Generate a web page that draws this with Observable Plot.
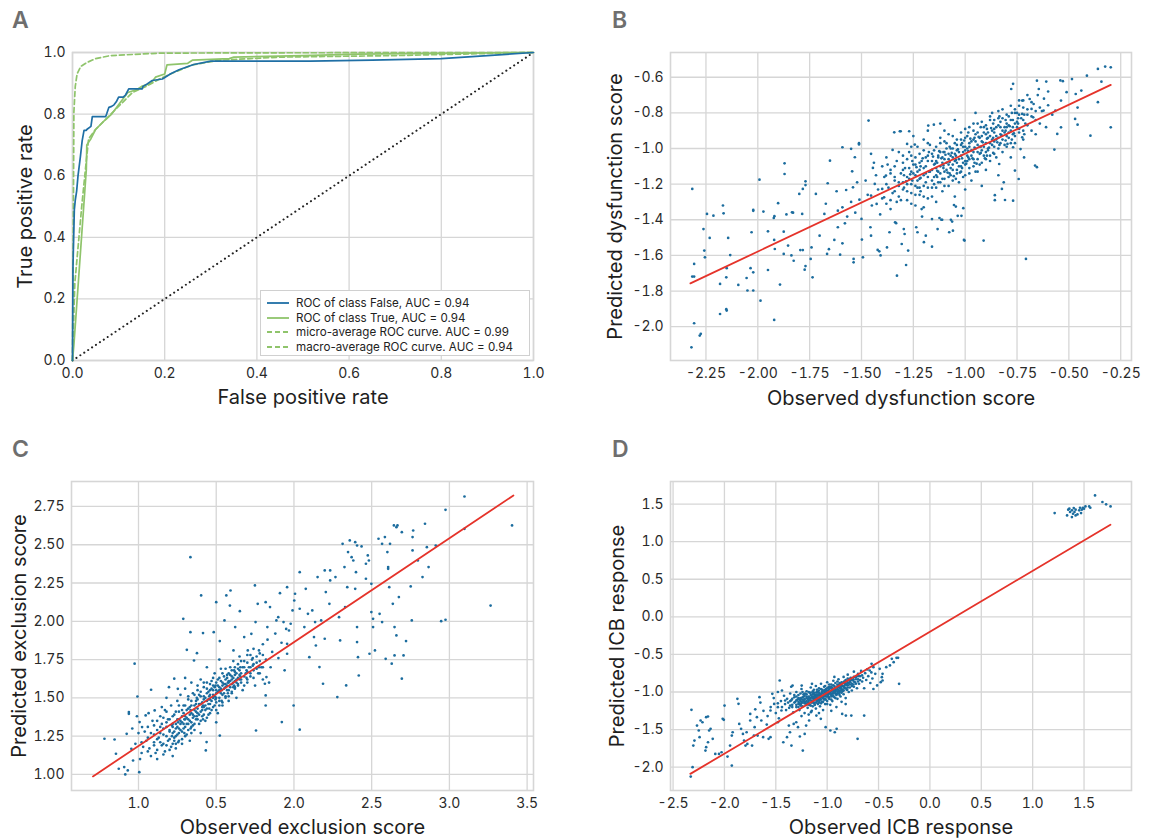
<!DOCTYPE html>
<html><head><meta charset="utf-8">
<script src="https://cdn.jsdelivr.net/npm/d3@7"></script>
<script src="https://cdn.jsdelivr.net/npm/@observablehq/plot@0.6"></script>
<style>
body{margin:0;background:#fff;font-family:Inter,"Open Sans",sans-serif;}
#root{position:relative;width:1157px;height:839px;overflow:hidden;background:#fff;}
.panel{position:absolute;}
.letter{position:absolute;font-size:23px;font-weight:600;color:#6e6e6e;line-height:23px;}
.legend{position:absolute;left:260px;top:290px;width:270px;height:66px;background:#fff;border:1px solid #d0d0d0;box-sizing:border-box;padding:5px 0 0 6px;font-size:11.6px;color:#222;}
.legend div{height:14.6px;display:flex;align-items:center;white-space:nowrap;}
.legend svg{margin-right:7px;}
</style></head><body><div id="root"></div>
<script>
// ---------- Panel A: ROC curves ----------
const rocFalseFpr = [0,0.001,0.004,0.006,0.009,0.012,0.017,0.021,0.025,0.03,0.031,0.04,0.043,0.072,0.074,0.079,0.085,0.09,0.095,0.1,0.11,0.115,0.122,0.151,0.153,0.162,0.173,0.195,0.213,0.231,0.263,0.3,0.516,0.65,0.8,0.9,1];
const rocFalseTpr = [0,0.3,0.49,0.52,0.55,0.6,0.66,0.714,0.747,0.747,0.75,0.76,0.792,0.792,0.8,0.822,0.825,0.83,0.84,0.855,0.855,0.862,0.882,0.882,0.89,0.898,0.909,0.914,0.931,0.944,0.961,0.972,0.972,0.975,0.98,0.99,1];
const rocTrueFpr = [0,0.003,0.03,0.031,0.04,0.05,0.07,0.085,0.1,0.12,0.14,0.15,0.17,0.18,0.2,0.205,0.25,0.26,0.34,0.35,0.5,0.62,1];
const rocTrueTpr = [0,0.05,0.62,0.70,0.72,0.75,0.78,0.80,0.83,0.87,0.88,0.89,0.90,0.92,0.93,0.96,0.965,0.975,0.98,0.985,0.99,0.995,1];
const microFpr = [0,0.002,0.003,0.006,0.01,0.018,0.032,0.05,0.082,0.15,0.19,0.4,1];
const microTpr = [0,0.5,0.806,0.89,0.931,0.955,0.968,0.98,0.99,0.995,0.998,0.999,1];
const macroFpr = [0,0.005,0.02,0.03,0.035,0.05,0.07,0.09,0.11,0.13,0.16,0.19,0.22,0.26,0.32,0.45,0.7,1];
const macroTpr = [0,0.25,0.5,0.65,0.72,0.75,0.78,0.81,0.84,0.87,0.89,0.915,0.935,0.96,0.975,0.985,0.99,1];
const chanceLine = [0,1];
const rocTicks = [0,0.2,0.4,0.6,0.8,1.0];
const rocTickLabels = ["0.0","0.2","0.4","0.6","0.8","1.0"];
const legendLabels = ["ROC of class False, AUC = 0.94","ROC of class True, AUC = 0.94","micro-average ROC curve. AUC = 0.99","macro-average ROC curve. AUC = 0.94"];

// ---------- Panel B: dysfunction ----------
const bXTicks = [-2.25,-2.0,-1.75,-1.5,-1.25,-1.0,-0.75,-0.5,-0.25];
const bXTickLabels = ["-2.25","-2.00","-1.75","-1.50","-1.25","-1.00","-0.75","-0.50","-0.25"];
const bYTicks = [-2.0,-1.8,-1.6,-1.4,-1.2,-1.0,-0.8,-0.6];
const bYTickLabels = ["-2.0","-1.8","-1.6","-1.4","-1.2","-1.0","-0.8","-0.6"];
const bFitObserved = [-2.325,-0.298];
const bFitPredicted = [-1.757,-0.643];
const bPoints = [[-2.316,-1.227],[-2.262,-1.452],[-2.258,-1.573],[-2.255,-1.611],[-2.307,-1.648],[-2.316,-1.719],[-2.307,-1.719],[-2.307,-1.981],[-2.32,-2.116],[-2.28,-2.05],[-2.275,-2.04],[-2.245,-1.367],[-2.214,-1.377],[-2.232,-1.502],[-2.168,-1.32],[-2.165,-1.364],[-2.143,-1.502],[-2.15,-1.672],[-2.152,-1.723],[-2.133,-1.598],[-2.182,-1.76],[-2.182,-1.929],[-2.15,-1.91],[-2.152,-1.902],[-2.094,-1.766],[-2.05,-1.797],[-2.022,-1.797],[-2.022,-1.35],[-2.022,-1.345],[-2.03,-1.47],[-1.987,-1.854],[-1.992,-1.175],[-2.035,-1.672],[-2.022,-1.695],[-2.054,-1.727],[-1.973,-1.354],[-1.951,-1.465],[-1.951,-1.682],[-1.923,-1.39],[-1.92,-1.38],[-1.921,-1.513],[-1.918,-1.564],[-1.902,-1.307],[-1.871,-1.083],[-1.871,-1.143],[-1.875,-1.467],[-1.875,-1.592],[-1.921,-1.962],[-1.893,-1.764],[-1.835,-1.358],[-1.83,-1.36],[-1.854,-1.545],[-1.862,-1.37],[-1.838,-1.6],[-1.827,-1.63],[-1.8,-1.255],[-1.783,-1.227],[-1.77,-1.184],[-1.77,-1.205],[-1.786,-1.367],[-1.795,-1.57],[-1.783,-1.57],[-1.774,-1.68],[-1.77,-1.66],[-1.745,-1.62],[-1.741,-1.555],[-1.736,-1.723],[-1.72,-1.255],[-1.702,-1.489],[-1.679,-1.367],[-1.672,-1.31],[-1.663,-1.195],[-1.652,-1.068],[-1.666,-1.592],[-1.657,-1.565],[-1.631,-1.513],[-1.614,-1.349],[-1.614,-1.442],[-1.603,-1.596],[-1.592,-0.993],[-1.592,-1.33],[-1.592,-1.532],[-1.574,-1.233],[-1.569,-1.382],[-1.55,-1.002],[-1.545,-1.128],[-1.541,-1.218],[-1.532,-1.049],[-1.538,-1.62],[-1.538,-1.639],[-1.512,-0.97],[-1.512,-0.977],[-1.521,-1.19],[-1.51,-1.287],[-1.5,-1.395],[-1.498,-1.511],[-1.493,-1.611],[-1.466,-0.843],[-1.454,-1.03],[-1.445,-1.109],[-1.454,-1.264],[-1.457,-1.442],[-1.454,-1.489],[-1.436,-1.199],[-1.427,-1.311],[-1.422,-1.569],[-1.414,-1.577],[-1.408,-1.6],[-1.4,-1.227],[-1.391,-1.274],[-1.382,-1.152],[-1.377,-1.555],[-1.374,-1.09],[-1.365,-1.47],[-1.35,-1.008],[-1.342,-0.909],[-1.338,-1.414],[-1.333,-1.419],[-1.329,-1.714],[-1.315,-0.903],[-1.311,-0.903],[-1.306,-1.536],[-1.296,-1.452],[-1.292,-1.48],[-1.285,-1.654],[-1.28,-0.974],[-1.27,-0.903],[-1.275,-1.573],[-1.243,-0.978],[-1.236,-1.442],[-1.23,-1.47],[-1.208,-1.382],[-1.199,-1.526],[-1.19,-1.489],[-1.16,-1.551],[-1.151,-0.866],[-1.16,-1.396],[-1.178,-0.871],[-1.133,-1.452],[-1.124,-1.39],[-1.115,-1.4],[-1.111,-1.4],[-1.069,-1.4],[-1.077,-1.47],[-1.063,-1.41],[-1.059,-1.461],[-1.054,-1.317],[-1.045,-1.326],[-1.036,-1.378],[-1.018,-1.378],[-1.009,-1.335],[-1.006,-1.513],[-1.003,-1.517],[-0.911,-1.517],[-0.857,-1.29],[-0.857,-1.262],[-0.808,-1.289],[-0.769,-1.293],[-0.707,-1.62],
[-0.413,-0.591],[-0.36,-0.553],[-0.325,-0.54],[-0.298,-0.544],[-0.343,-0.625],[-0.36,-0.74],[-0.298,-0.881],[-0.396,-0.928],[-0.485,-0.61],[-0.44,-0.675],[-0.467,-0.694],[-0.458,-0.77],[-0.47,-0.834],[-0.458,-0.866],[-0.529,-0.622],[-0.541,-0.618],[-0.511,-0.684],[-0.538,-0.731],[-0.565,-0.787],[-0.556,-0.918],[-0.57,-1.006],[-0.538,-0.881],[-0.6,-0.757],[-0.609,-0.624],[-0.654,-0.619],[-0.645,-0.666],[-0.622,-0.787],[-0.769,-0.637],[-0.778,-0.666],[-0.689,-0.722],[-0.725,-0.731],[-0.725,-0.806],[-0.68,-0.778],[-0.672,-0.825],[-0.654,-1.105],[-0.663,-1.096],[-0.716,-1.05],[-0.733,-1.003],[-0.742,-1.171],[-0.76,-1.124],[-0.814,-1.19],[-0.823,-1.227],[-0.836,-1.087],[-0.796,-0.974],[-0.769,-0.993],[-0.725,-0.937],
[-1.39,-1.16],[-1.37,-1.22],[-1.36,-1.12],[-1.35,-1.25],[-1.34,-1.18],[-1.33,-1.07],[-1.32,-1.21],[-1.31,-1.29],[-1.31,-1.14],[-1.30,-1.19],[-1.30,-1.04],[-1.38,-1.31],[-1.36,-1.34],[-1.33,-1.30],
[-1.29,-1.11],[-1.28,-1.24],[-1.28,-1.16],[-1.27,-1.02],[-1.26,-1.20],[-1.26,-1.31],[-1.25,-1.09],[-1.25,-1.14],[-1.24,-1.26],[-1.24,-1.05],[-1.23,-1.18],[-1.23,-0.99],[-1.22,-1.12],[-1.22,-1.22],[-1.21,-1.34],[-1.21,-1.07],[-1.20,-1.15],[-1.20,-1.27],[-1.20,-0.95],
[-1.19,-1.10],[-1.19,-1.19],[-1.18,-1.04],[-1.18,-1.28],[-1.17,-1.13],[-1.17,-0.98],[-1.16,-1.07],[-1.16,-1.22],[-1.15,-1.16],[-1.15,-1.01],[-1.14,-1.11],[-1.14,-1.30],[-1.13,-1.05],[-1.13,-1.19],[-1.12,-0.94],[-1.12,-1.14],[-1.11,-1.08],[-1.11,-1.24],[-1.10,-1.02],[-1.10,-1.17],[-1.10,-0.90],
[-1.09,-1.12],[-1.09,-0.97],[-1.08,-1.06],[-1.08,-1.21],[-1.07,-1.00],[-1.07,-1.15],[-1.06,-1.09],[-1.06,-0.93],[-1.05,-1.03],[-1.05,-1.27],[-1.04,-1.12],[-1.04,-0.98],[-1.03,-1.06],[-1.03,-1.19],[-1.02,-0.95],[-1.02,-1.10],[-1.01,-1.02],[-1.01,-1.16],[-1.00,-0.89],[-1.00,-1.07],[-1.00,-0.99],[-1.00,-1.23],
[-0.99,-1.04],[-0.99,-0.93],[-0.98,-1.11],[-0.98,-0.97],[-0.97,-1.01],[-0.97,-1.18],[-0.96,-0.90],[-0.96,-1.06],[-0.95,-0.96],[-0.95,-1.13],[-0.94,-1.02],[-0.94,-0.86],[-0.93,-0.99],[-0.93,-1.09],[-0.92,-0.93],[-0.92,-1.21],[-0.91,-1.04],[-0.91,-0.88],[-0.90,-0.97],[-0.90,-1.12],
[-0.89,-0.91],[-0.89,-1.01],[-0.88,-0.84],[-0.88,-1.07],[-0.87,-0.95],[-0.87,-0.80],[-0.86,-0.99],[-0.86,-0.89],[-0.85,-1.05],[-0.85,-0.93],[-0.84,-0.83],[-0.84,-1.15],[-0.83,-0.97],[-0.83,-0.88],[-0.82,-0.78],[-0.82,-1.02],[-0.81,-0.91],[-0.80,-0.86],[-0.80,-0.99],
[-0.79,-0.82],[-0.79,-0.94],[-0.78,-0.76],[-0.78,-1.05],[-0.77,-0.88],[-0.76,-0.80],[-0.76,-0.97],[-0.75,-0.85],[-0.74,-0.73],[-0.74,-0.91],[-0.73,-0.83],[-0.72,-0.77],[-0.72,-0.95],[-0.71,-0.86],[-0.70,-0.70],[-0.70,-0.81],
[-1.48,-1.18],[-1.45,-1.32],[-1.44,-1.08],[-1.42,-1.23],[-1.41,-1.37],[-1.47,-1.26],[-1.43,-1.15],[-0.68,-0.90],[-0.67,-0.75],[-0.66,-0.84],[-0.65,-0.70],[-0.63,-0.79],[-0.62,-0.72],[-0.61,-0.88],[-0.60,-0.68],[-0.58,-0.81],[-1.55,-1.30],[-1.58,-1.42],[-1.53,-1.36],[-1.62,-1.24],[-1.12,-0.86],[-1.05,-0.84],[-0.95,-0.80],[-1.25,-0.93],[-1.18,-0.90],
[-1.155,-1.045],[-1.145,-1.085],[-1.135,-1.125],[-1.125,-1.015],[-1.115,-1.055],[-1.105,-1.095],[-1.095,-1.035],[-1.085,-1.135],[-1.075,-1.075],[-1.065,-1.025],[-1.055,-1.155],[-1.045,-1.065],[-1.035,-1.005],[-1.025,-1.135],[-1.015,-1.055],[-1.005,-0.955],[-0.995,-1.085],[-0.985,-1.015],[-0.975,-0.945],[-0.965,-1.055],[-0.955,-0.995],[-0.945,-1.085],[-0.935,-0.935],[-0.925,-1.025],[-0.915,-0.965],[-0.905,-1.055],[-0.895,-0.945],[-0.885,-0.995],[-0.875,-0.885],[-0.865,-1.025],[-1.205,-1.055],[-1.215,-1.165],[-1.235,-1.105],[-1.265,-1.145],[-1.285,-1.185],[-0.845,-0.965],[-0.825,-0.925],[-0.805,-0.955],[-0.785,-0.875],[-0.765,-0.915]];
// dense core of B: observed value, then the predicted values read at that observed value
const bCoreRows = [[-1.40,[-1.10,-1.28]],[-1.38,[-1.20,-1.05]],[-1.36,[-1.14,-1.29]],[-1.34,[-1.24,-1.10,-1.16]],[-1.32,[-1.02,-1.19,-1.27]],[-1.30,[-1.12,-1.23,-1.08]],[-1.28,[-1.20,-1.06,-1.29]],[-1.27,[-1.17,-1.11]],[-1.26,[-1.13,-1.04,-1.25,-0.99]],[-1.24,[-1.15,-1.21,-1.09,-1.32]],[-1.23,[-1.13,-1.22]],[-1.22,[-1.03,-1.17,-1.26,-1.08]],[-1.20,[-1.11,-1.21,-1.01,-1.33]],[-1.19,[-1.05,-1.14]],[-1.18,[-1.16,-1.07,-1.22,-0.97]],[-1.16,[-1.12,-1.03,-1.18,-1.27]],[-1.15,[-1.09,-1.20]],[-1.14,[-1.07,-1.15,-0.99,-1.22]],[-1.13,[-1.13,-1.04]],[-1.12,[-1.10,-1.02,-1.19,-0.97]],[-1.11,[-1.17,-1.05]],[-1.10,[-1.13,-1.06,-0.96,-1.21]],[-1.09,[-1.08,-1.00]],[-1.08,[-1.03,-1.16,-0.92,-1.09]],[-1.07,[-1.11,-1.04]],[-1.06,[-1.00,-1.12,-1.05,-1.18]],[-1.05,[-1.07,-0.97]],[-1.04,[-1.08,-0.95,-1.14,-1.01]],[-1.03,[-1.02,-1.10]],[-1.02,[-1.04,-0.91,-1.13,-0.98]],[-1.01,[-1.08,-0.99]],[-1.00,[-1.01,-1.09,-0.94,-1.15]],[-0.99,[-1.00,-1.07]],[-0.98,[-1.06,-0.99,-0.88,-1.14]],[-0.97,[-0.96,-1.04]],[-0.96,[-1.02,-0.95,-1.10,-0.86]],[-0.95,[-1.00,-0.92]],[-0.94,[-0.98,-1.06,-0.91,-1.13]],[-0.93,[-1.03,-0.94]],[-0.92,[-1.01,-0.96,-0.85,-1.08]],[-0.91,[-0.99,-0.91]],[-0.90,[-0.92,-1.02,-0.87,-1.06]],[-0.89,[-0.94,-1.00]],[-0.88,[-0.97,-0.93,-1.04,-0.82]],[-0.87,[-0.90,-0.98]],[-0.86,[-0.91,-0.96,-0.84,-1.03]],[-0.85,[-0.95,-0.88]],[-0.84,[-0.94,-0.87,-1.00,-0.79]],[-0.83,[-0.92,-0.85]],[-0.82,[-0.90,-0.95,-0.83]],[-0.81,[-0.88,-0.98]],[-0.80,[-0.93,-0.81,-0.88]],[-0.79,[-0.87,-0.91]],[-0.78,[-0.90,-0.84,-0.97]],[-0.77,[-0.84,-0.92]],[-0.76,[-0.86,-0.78,-0.93]],[-0.75,[-0.88,-0.80]],[-0.74,[-0.89,-0.81,-0.76]],[-0.72,[-0.84,-0.90,-0.73]],[-0.70,[-0.87,-0.78]],[-0.68,[-0.82,-0.74]],[-0.66,[-0.79,-0.92]],[-0.64,[-0.77,-0.86]],
[-1.295,[-1.15,-1.22]],[-1.255,[-1.18,-1.07]],[-1.215,[-1.10,-1.24]],[-1.175,[-1.13,-1.02]],[-1.135,[-1.16,-1.08]],[-1.105,[-1.02,-1.11]],[-1.075,[-1.14,-0.99]],[-1.045,[-1.04,-1.17]],[-1.015,[-0.97,-1.11]],[-0.985,[-1.05,-0.91]],[-0.955,[-1.08,-0.94]],[-0.925,[-0.99,-0.88]],[-0.895,[-1.04,-0.89]],[-0.865,[-0.94,-0.86]],[-0.835,[-0.98,-0.82]],[-0.805,[-0.90,-0.84]],[-0.775,[-0.95,-0.80]],[-0.745,[-0.86,-0.83]],[-0.715,[-0.81,-0.92]]];

// ---------- Panel C: exclusion ----------
const cXTicks = [1.0,1.5,2.0,2.5,3.0,3.5];
const cXTickLabels = ["1.0","0.5","2.0","2.5","3.0","3.5"];
const cYTicks = [1.0,1.25,1.5,1.75,2.0,2.25,2.5,2.75];
const cYTickLabels = ["1.00","1.25","1.50","1.75","2.00","2.25","2.50","2.75"];
const cFitObserved = [0.707,3.412];
const cFitPredicted = [0.987,2.822];
const cPoints = [[0.781,1.233],[0.846,1.228],[0.855,1.135],[0.873,1.037],[0.915,1.0],[0.908,1.048],[0.931,1.026],[0.938,1.407],[0.938,1.396],[0.975,1.723],[0.993,1.509],[1.005,1.015],[0.924,1.265],[0.954,1.167],[0.965,1.091],[1.023,1.309],[1.007,1.342],[1.081,1.553],[1.065,1.4],[1.046,1.385],[1.104,1.418],[1.15,1.44],[1.196,1.57],[1.23,1.625],[1.253,1.559],[1.288,2.016],[1.334,2.419],[1.334,1.929],[1.311,1.814],[1.357,1.744],[1.376,1.792],[1.403,2.169],[1.415,1.923],[1.438,1.211],[1.433,1.157],[1.484,1.929],[1.5,2.125],[1.523,1.871],[1.523,1.254],[1.565,2.169],[1.592,2.201],[1.588,2.103],[1.553,2.006],[1.611,1.81],[1.652,2.066],[1.622,1.962],[1.68,1.897],[1.703,1.81],[1.726,1.918],[1.749,2.234],[1.756,1.287],[1.753,1.995],[1.767,2.114],[1.818,2.125],[1.829,1.962],[1.846,2.093],[1.818,1.45],[1.818,1.516],[1.813,1.592],[1.823,1.636],[1.91,2.184],[1.922,1.342],[1.887,2.006],[1.899,2.027],[1.933,1.995],[1.956,2.223],[1.968,1.94],[1.979,1.984],[1.956,1.853],[1.956,1.788],[1.991,2.071],[2.002,2.136],[2.007,2.18],[2.037,2.321],[1.998,1.45],[2.037,1.292],[2.037,2.082],[2.067,1.962],[2.076,2.212],[2.09,2.049],[2.099,1.766],[2.118,2.071],[2.129,1.897],[2.141,1.842],[2.136,1.995],[2.152,2.289],[2.164,1.701],[2.175,2.006],[2.187,1.592],[2.198,1.886],[2.198,2.332],[2.205,2.191],[2.228,2.114],[2.233,2.267],[2.233,2.332],[2.267,2.289],[2.279,1.505],[2.29,2.027],[2.297,1.875],[2.313,2.506],[2.325,2.354],[2.329,2.093],[2.336,1.581],[2.343,2.223],[2.348,2.452],[2.359,2.528],[2.371,2.419],[2.382,2.397],[2.394,2.517],[2.406,2.495],[2.399,2.321],[2.394,2.212],[2.406,1.962],[2.406,1.864],[2.417,1.646],[2.412,1.766],[2.435,2.489],[2.463,2.376],[2.475,2.43],[2.482,2.397],[2.463,2.278],[2.486,1.788],[2.498,2.245],[2.498,2.06],[2.509,1.962],[2.509,2.016],[2.521,1.81],[2.544,2.539],[2.551,2.049],[2.567,1.995],[2.567,2.506],[2.585,2.55],[2.59,1.755],[2.601,2.452],[2.606,2.354],[2.606,2.343],[2.613,2.223],[2.618,2.506],[2.629,1.723],[2.643,2.626],[2.659,2.615],[2.666,2.626],[2.636,2.114],[2.647,1.962],[2.647,1.777],[2.659,1.908],[2.675,2.158],[2.694,2.582],[2.694,1.625],[2.705,1.777],[2.721,1.871],[2.758,2.006],[2.763,2.55],[2.763,2.463],[2.751,2.228],[2.767,2.593],[2.797,2.397],[2.843,2.637],[2.855,2.484],[2.866,2.354],[2.827,2.289],[2.912,2.495],[2.947,2.001],[2.975,2.01],[2.975,2.728],[3.097,2.815],[3.097,2.604],[3.265,2.103],[3.403,2.626],
[1.05,1.22],[1.06,1.31],[1.07,1.17],[1.08,1.27],[1.09,1.35],[1.10,1.21],[1.11,1.14],[1.12,1.29],[1.13,1.24],[1.14,1.38],[1.15,1.19],[1.15,1.33],[1.12,1.10],[1.08,1.12],[1.04,1.28],
[1.16,1.26],[1.17,1.42],[1.17,1.15],[1.18,1.31],[1.19,1.22],[1.19,1.36],[1.20,1.28],[1.21,1.18],[1.21,1.45],[1.22,1.33],[1.23,1.24],[1.23,1.39],[1.24,1.30],[1.24,1.20],[1.25,1.36],[1.25,1.48],[1.22,1.12],[1.18,1.50],
[1.26,1.27],[1.26,1.41],[1.27,1.33],[1.27,1.52],[1.28,1.23],[1.28,1.38],[1.29,1.45],[1.29,1.30],[1.30,1.36],[1.30,1.56],[1.31,1.26],[1.31,1.42],[1.32,1.33],[1.32,1.49],[1.33,1.39],[1.33,1.22],[1.34,1.45],[1.34,1.31],[1.35,1.53],[1.35,1.37],[1.30,1.63],[1.34,1.60],
[1.36,1.42],[1.36,1.29],[1.37,1.48],[1.37,1.36],[1.38,1.55],[1.38,1.40],[1.39,1.33],[1.39,1.46],[1.40,1.51],[1.40,1.62],[1.41,1.38],[1.41,1.44],[1.42,1.57],[1.42,1.49],[1.43,1.35],[1.43,1.42],[1.44,1.53],[1.44,1.60],[1.45,1.46],[1.45,1.39],[1.40,1.27],[1.44,1.70],
[1.46,1.55],[1.46,1.49],[1.47,1.61],[1.47,1.42],[1.48,1.52],[1.48,1.58],[1.49,1.45],[1.49,1.66],[1.50,1.55],[1.50,1.50],[1.51,1.62],[1.51,1.40],[1.52,1.57],[1.52,1.48],[1.53,1.53],[1.53,1.69],[1.54,1.60],[1.54,1.45],[1.55,1.56],[1.55,1.64],[1.50,1.34],[1.52,1.75],
[1.56,1.59],[1.56,1.51],[1.57,1.65],[1.57,1.55],[1.58,1.48],[1.58,1.61],[1.59,1.70],[1.59,1.57],[1.60,1.53],[1.60,1.64],[1.61,1.60],[1.61,1.74],[1.62,1.56],[1.62,1.67],[1.63,1.62],[1.63,1.50],[1.64,1.69],[1.64,1.58],[1.65,1.65],[1.65,1.77],
[1.66,1.62],[1.67,1.70],[1.67,1.55],[1.68,1.74],[1.69,1.66],[1.70,1.60],[1.70,1.78],[1.71,1.70],[1.72,1.64],[1.73,1.75],[1.74,1.82],[1.74,1.68],[1.75,1.58],[1.76,1.73],[1.77,1.66],[1.78,1.79],[1.79,1.70],[1.80,1.62],[1.80,1.85],
[1.82,1.75],[1.83,1.88],[1.85,1.70],[1.86,1.80],[1.88,1.92],[1.90,1.76],[1.92,1.86],[1.94,1.68],[1.95,1.95],[1.84,1.60],
[0.98,1.20],[1.00,1.27],[1.01,1.10],[1.03,1.18],[0.96,1.30],[0.99,1.38]];
const cCoreRows = [[1.02,[1.21,1.14]],[1.06,[1.24,1.15]],[1.10,[1.19,1.26,1.32]],[1.12,[1.23,1.16,1.35]],[1.14,[1.27,1.21,1.31]],[1.16,[1.20,1.30,1.37,1.13]],[1.18,[1.25,1.34,1.19,1.41]],[1.20,[1.29,1.23,1.36,1.16]],[1.22,[1.27,1.38,1.31,1.20]],[1.23,[1.28,1.22]],[1.24,[1.33,1.25,1.41,1.17]],[1.25,[1.31,1.26]],[1.26,[1.30,1.36,1.22,1.45]],[1.27,[1.29,1.35]],[1.28,[1.34,1.28,1.42,1.20]],[1.29,[1.33,1.40]],[1.30,[1.38,1.31,1.45,1.25]],[1.31,[1.33,1.37]],[1.32,[1.36,1.43,1.29,1.51]],[1.33,[1.35,1.44]],[1.34,[1.40,1.34,1.48,1.27]],[1.35,[1.39,1.32]],[1.36,[1.45,1.38,1.52,1.33]],[1.37,[1.41,1.46]],[1.38,[1.43,1.49,1.36,1.58]],[1.39,[1.39,1.52]],[1.40,[1.46,1.41,1.54,1.35]],[1.41,[1.47,1.42]],[1.42,[1.44,1.51,1.39,1.60]],[1.43,[1.50,1.45]],[1.44,[1.48,1.43,1.56,1.37]],[1.45,[1.49,1.54]],[1.46,[1.52,1.46,1.59,1.40]],[1.47,[1.48,1.56]],[1.48,[1.50,1.55,1.44,1.63]],[1.49,[1.51,1.57]],[1.50,[1.53,1.47,1.60,1.42]],[1.51,[1.54,1.58]],[1.52,[1.55,1.50,1.63,1.45]],[1.53,[1.56,1.61]],[1.54,[1.52,1.58,1.66,1.47]],[1.55,[1.53,1.59]],[1.56,[1.57,1.62,1.50,1.69]],[1.57,[1.58,1.63]],[1.58,[1.55,1.60,1.66,1.51]],[1.59,[1.61,1.65]],[1.60,[1.59,1.68,1.54,1.62]],[1.61,[1.63,1.57]],[1.62,[1.61,1.57,1.70,1.65]],[1.63,[1.66,1.60]],[1.64,[1.63,1.72,1.59]],[1.65,[1.62,1.68]],[1.66,[1.66,1.60,1.74]],[1.68,[1.64,1.70,1.58]],[1.70,[1.67,1.73,1.62]],[1.72,[1.70,1.66,1.78]],[1.74,[1.72,1.63]],[1.76,[1.69,1.77]],[1.78,[1.74,1.66]],[1.80,[1.78,1.70]],
[1.215,[1.25,1.32]],[1.255,[1.34,1.21]],[1.295,[1.36,1.27]],[1.335,[1.42,1.30]],[1.375,[1.38,1.50]],[1.415,[1.45,1.36]],[1.455,[1.51,1.43]],[1.495,[1.49,1.58]],[1.535,[1.55,1.48]],[1.575,[1.60,1.53]],[1.615,[1.58,1.68]],[1.655,[1.64,1.70]],[1.695,[1.68,1.63]],[1.735,[1.71,1.76]],[1.775,[1.70,1.81]]];

// ---------- Panel D: ICB response ----------
const dXTicks = [-2.5,-2.0,-1.5,-1.0,-0.5,0.0,0.5,1.0,1.5];
const dXTickLabels = ["-2.5","-2.0","-1.5","-1.0","-0.5","0.0","0.5","1.0","1.5"];
const dYTicks = [-2.0,-1.5,-1.0,-0.5,0.0,0.5,1.0,1.5];
const dYTickLabels = ["-2.0","-1.5","-1.0","-0.5","0.0","0.5","1.0","1.5"];
const dFitObserved = [-2.332,1.757];
const dFitPredicted = [-2.089,1.225];
const dPoints = [[1.214,1.38],[1.335,1.349],[1.346,1.425],[1.364,1.394],[1.382,1.416],[1.393,1.371],[1.407,1.394],[1.418,1.425],[1.436,1.362],[1.453,1.416],[1.461,1.451],[1.471,1.38],[1.478,1.425],[1.489,1.451],[1.5,1.438],[1.514,1.469],[1.55,1.469],[1.561,1.451],[1.607,1.615],[1.679,1.527],[1.715,1.496],[1.758,1.469],[1.382,1.327],[1.418,1.349],[1.357,1.438],[1.4,1.447],
[-2.321,-1.237],[-2.328,-2.125],[-2.31,-2.0],[-2.303,-1.712],[-2.292,-1.646],[-2.267,-1.446],[-2.25,-1.512],[-2.242,-1.601],[-2.232,-1.379],[-2.214,-1.402],[-2.178,-1.335],[-2.16,-1.326],[-2.178,-1.734],[-2.185,-1.779],[-2.16,-1.668],[-2.149,-1.512],[-2.135,-1.49],[-2.114,-1.623],[-2.089,-1.823],[-2.053,-1.823],[-2.028,-1.801],[-2.017,-1.357],[-2.006,-1.37],[-1.999,-1.18],[-1.97,-1.859],[-1.945,-1.712],[-1.928,-1.978],[-1.928,-1.579],[-1.92,-1.535],[-1.874,-1.091],[-1.863,-1.157],[-1.856,-1.424],[-1.838,-1.49],[-1.82,-1.557],[-1.809,-1.646],[-1.795,-1.712],[-1.784,-1.535],[-1.777,-1.69],[-1.749,-1.291],[-1.749,-1.379],[-1.731,-1.712],[-1.713,-1.579],[-1.706,-1.468],[-1.684,-1.335],[-1.677,-1.579],[-1.659,-1.069],[-1.641,-1.379],[-1.623,-1.601],[-1.588,-1.433],[-1.57,-1.623],[-1.552,-1.601],[-1.552,-1.246],[-1.534,-1.024],[-1.516,-1.158],[-1.48,-1.402],[-1.48,-1.202],[-1.462,-0.847],[-1.445,-1.246],[-1.427,-1.668],[-1.409,-1.113],[-1.391,-1.601],[-1.373,-1.446],[-1.362,-1.535],[-1.348,-1.712],[-1.337,-0.914],[-1.326,-1.424],[-1.301,-1.402],[-1.284,-1.468],[-1.266,-1.592],[-1.266,-1.158],[-1.248,-0.914],[-1.237,-1.779],[-1.219,-1.557],[-1.205,-1.446],[-1.176,-1.379],[-1.158,-1.268],[-1.148,-0.891],[-1.105,-1.313],[-1.062,-1.357],[-1.015,-1.468],[-0.969,-1.512],[-0.926,-1.535],[-0.908,-1.49],[-0.854,-1.291],[-0.818,-1.313],[-0.765,-1.313],[-0.704,-1.623],[-0.64,-1.313],
[-0.514,-0.913],[-0.479,-0.869],[-0.468,-0.803],[-0.461,-0.758],[-0.425,-0.67],[-0.389,-0.647],[-0.371,-0.559],[-0.353,-0.603],[-0.325,-0.545],[-0.31,-0.545],[-0.3,-0.891],[-0.461,-0.847],[-0.489,-0.692],[-0.532,-0.758],[-0.55,-0.67],[-0.568,-0.625],[-0.586,-0.714],
[-1.45,-1.12],[-1.44,-1.20],[-1.42,-1.05],[-1.41,-1.16],[-1.40,-1.24],[-1.39,-1.09],[-1.38,-1.14],[-1.37,-1.21],[-1.36,-1.02],[-1.35,-1.11],[-1.34,-1.17],[-1.33,-1.27],[-1.32,-1.07],[-1.31,-1.13],[-1.30,-1.00],[-1.30,-1.20],
[-1.29,-1.10],[-1.28,-1.16],[-1.28,-1.04],[-1.27,-1.24],[-1.26,-1.08],[-1.25,-0.96],[-1.25,-1.13],[-1.24,-1.19],[-1.23,-1.03],[-1.22,-1.10],[-1.22,-1.28],[-1.21,-1.15],[-1.20,-0.99],[-1.20,-1.06],[-1.19,-1.21],[-1.18,-1.12],[-1.17,-1.01],[-1.17,-1.17],[-1.16,-0.94],[-1.16,-1.08],[-1.15,-1.14],[-1.15,-1.25],
[-1.14,-1.03],[-1.14,-1.19],[-1.13,-1.09],[-1.13,-0.97],[-1.12,-1.14],[-1.12,-1.05],[-1.11,-1.22],[-1.11,-0.92],[-1.10,-1.08],[-1.10,-1.00],[-1.09,-1.16],[-1.09,-1.04],[-1.08,-0.95],[-1.08,-1.11],[-1.07,-1.02],[-1.07,-1.19],[-1.06,-1.07],[-1.06,-0.89],[-1.05,-1.13],[-1.05,-0.99],[-1.04,-1.05],[-1.04,-1.24],[-1.03,-0.93],[-1.03,-1.10],[-1.02,-1.01],[-1.02,-1.16],[-1.01,-1.06],[-1.01,-0.96],[-1.00,-1.12],[-1.00,-0.87],
[-0.99,-1.03],[-0.99,-0.98],[-0.98,-1.09],[-0.98,-0.93],[-0.97,-1.00],[-0.97,-1.17],[-0.96,-1.05],[-0.96,-0.90],[-0.95,-0.97],[-0.95,-1.12],[-0.94,-1.02],[-0.94,-0.85],[-0.93,-0.95],[-0.93,-1.07],[-0.92,-0.99],[-0.92,-0.88],[-0.91,-1.04],[-0.91,-1.20],[-0.90,-0.93],[-0.90,-1.09],[-0.89,-0.97],[-0.89,-0.83],[-0.88,-1.01],[-0.88,-0.90],[-0.87,-1.06],[-0.87,-0.95],[-0.86,-0.87],[-0.86,-1.13],[-0.85,-0.99],[-0.85,-0.92],
[-0.84,-0.80],[-0.84,-1.03],[-0.83,-0.94],[-0.83,-0.88],[-0.82,-1.08],[-0.82,-0.85],[-0.81,-0.97],[-0.80,-0.91],[-0.80,-0.77],[-0.79,-1.00],[-0.78,-0.86],[-0.78,-0.94],[-0.77,-0.81],[-0.76,-0.98],[-0.76,-0.89],[-0.75,-0.84],[-0.74,-0.73],[-0.74,-0.93],[-0.73,-0.87],[-0.72,-0.80],[-0.71,-0.95],[-0.70,-0.83],[-0.70,-0.76],
[-0.69,-0.89],[-0.68,-0.79],[-0.67,-0.72],[-0.66,-0.86],[-0.65,-0.81],[-0.64,-0.95],[-0.63,-0.75],[-0.62,-0.84],[-0.61,-0.70],[-0.60,-0.79],[-0.58,-0.88],[-0.57,-0.74],[-0.56,-0.82],[-0.55,-0.96],
[-1.55,-1.20],[-1.52,-1.08],[-1.50,-1.28],[-1.48,-1.15],[-1.58,-1.32],[-1.62,-1.25],[-1.47,-1.35],[-1.44,-0.98],[-1.35,-0.93],[-1.25,-1.32],[-1.18,-1.30],[-1.08,-1.28],[-0.96,-1.25],[-0.93,-0.80],[-0.82,-1.16],[-1.48,-1.00],[-1.65,-1.14],[-1.70,-1.23]];
const dCoreRows = [[-1.36,[-1.12,-1.18]],[-1.34,[-1.09,-1.20]],[-1.32,[-1.14,-1.04]],[-1.30,[-1.11,-1.17,-1.06]],[-1.28,[-1.13,-1.08,-1.20]],[-1.27,[-1.10,-1.15]],[-1.26,[-1.12,-1.02,-1.18]],[-1.24,[-1.07,-1.14,-1.10,-1.00]],[-1.23,[-1.12,-1.06]],[-1.22,[-1.05,-1.15,-1.09]],[-1.20,[-1.12,-1.03,-1.17,-1.08]],[-1.19,[-1.09,-1.14]],[-1.18,[-1.06,-1.15,-1.00,-1.10]],[-1.16,[-1.11,-1.04,-1.18,-1.01]],[-1.15,[-1.06,-1.12]],[-1.14,[-1.08,-1.13,-0.99,-1.06]],[-1.13,[-1.03,-1.15]],[-1.12,[-1.10,-1.01,-1.17,-1.07]],[-1.11,[-1.08,-1.04]],[-1.10,[-1.05,-1.12,-0.97,-1.03]],[-1.09,[-1.10,-1.00]],[-1.08,[-1.07,-1.01,-1.14,-0.98]],[-1.07,[-1.05,-1.09]],[-1.06,[-1.03,-1.10,-0.96,-1.15]],[-1.05,[-1.01,-1.07]],[-1.04,[-1.08,-0.99,-1.02,-1.13]],[-1.03,[-1.06,-0.99]],[-1.02,[-1.04,-0.97,-1.09,-0.92]],[-1.01,[-1.03,-0.98]],[-1.00,[-1.01,-1.06,-0.95,-1.16]],[-0.99,[-1.05,-0.94]],[-0.98,[-1.02,-0.96,-1.07,-0.90]],[-0.97,[-1.01,-0.95]],[-0.96,[-0.99,-1.03,-0.93,-1.10]],[-0.95,[-1.02,-0.96]],[-0.94,[-0.97,-1.05,-0.91,-1.00]],[-0.93,[-0.99,-0.92]],[-0.92,[-1.02,-0.94,-0.97,-1.08]],[-0.91,[-0.97,-1.03]],[-0.90,[-0.96,-0.90,-1.00,-0.86]],[-0.89,[-0.93,-0.98]],[-0.88,[-0.94,-0.99,-0.88,-1.04]],[-0.87,[-0.95,-0.89]],[-0.86,[-0.91,-0.96,-1.01]],[-0.85,[-0.92,-0.97]],[-0.84,[-0.93,-0.87,-0.98]],[-0.83,[-0.89,-0.95]],[-0.82,[-0.90,-0.95,-0.84]],[-0.81,[-0.91,-0.86]],[-0.80,[-0.88,-0.94,-0.82]],[-0.79,[-0.88,-0.83]],[-0.78,[-0.90,-0.85]],[-0.76,[-0.84,-0.92]],[-0.74,[-0.86,-0.80]],[-0.72,[-0.89,-0.83]],[-0.70,[-0.86,-0.79]],[-0.68,[-0.84]],[-0.66,[-0.78]],
[-1.255,[-1.09,-1.16]],[-1.215,[-1.13,-1.02]],[-1.175,[-1.08,-1.17]],[-1.135,[-1.11,-1.01]],[-1.105,[-1.06,-1.14]],[-1.075,[-1.03,-1.12]],[-1.045,[-1.06,-0.97]],[-1.015,[-1.10,-0.99]],[-0.985,[-1.00,-1.08]],[-0.955,[-0.94,-1.06]],[-0.925,[-1.00,-0.95]],[-0.895,[-0.91,-1.02]],[-0.865,[-0.98,-0.93]],[-0.835,[-0.86,-0.92]],[-0.805,[-0.89,-0.97]],[-0.775,[-0.87,-0.82]],[-0.745,[-0.90,-0.83]]];

// ---------- styles ----------
const BLUE = "#1f6fa5", GREEN = "#8fc46b", RED = "#e5332a", GRID = "#d6d6d6", DOT = "#1b6c9e";
const FONT = "Inter, 'Open Sans', sans-serif";

function zip(xs, ys) { return xs.map((x, i) => ({x, y: ys[i]})); }
function withCore(points, rows) { return points.concat(rows.flatMap(([x, ys]) => ys.map(y => [x, y]))); }

function makePanel(o) {
  const xLab = new Map(o.xTicks.map((t, i) => [t, o.xTickLabels[i]]));
  const yLab = new Map(o.yTicks.map((t, i) => [t, o.yTickLabels[i]]));
  const svg = Plot.plot({
    width: o.width, height: o.height,
    marginLeft: o.m[0], marginRight: o.m[1], marginTop: o.m[2], marginBottom: o.m[3],
    x: {domain: o.xDomain}, y: {domain: o.yDomain},
    style: {fontFamily: FONT, fontSize: "14px", color: "#2a2a2a", background: "transparent", overflow: "visible"},
    marks: [
      Plot.gridX(o.xTicks, {stroke: GRID, strokeOpacity: 1, strokeWidth: 1.3}),
      Plot.gridY(o.yTicks, {stroke: GRID, strokeOpacity: 1, strokeWidth: 1.3}),
      Plot.frame({stroke: GRID, strokeWidth: 1.6}),
      Plot.axisX(o.xTicks, {tickSize: 0, tickPadding: 8, tickFormat: d => xLab.get(d), label: null, fontSize: 14}),
      Plot.axisY(o.yTicks, {tickSize: 0, tickPadding: 7, tickFormat: d => yLab.get(d), label: null, fontSize: 14}),
      ...o.marks,
      Plot.text([o.xTitle], {frameAnchor: "bottom", lineAnchor: "middle", textAnchor: "middle", dy: o.xTitleDy, fontSize: 20, fill: "#1e1e1e"}),
      Plot.text([o.yTitle], {frameAnchor: "left", lineAnchor: "middle", textAnchor: "middle", rotate: -90, dx: -o.yTitleDx, fontSize: 20, fill: "#1e1e1e"})
    ]
  });
  svg.classList.add("panel");
  svg.style.left = o.left + "px";
  svg.style.top = o.top + "px";
  return svg;
}

const root = document.getElementById("root");

// Panel A
const rocSeries = [
  {fpr: rocFalseFpr, tpr: rocFalseTpr, stroke: BLUE, dash: null},
  {fpr: rocTrueFpr, tpr: rocTrueTpr, stroke: GREEN, dash: null},
  {fpr: microFpr, tpr: microTpr, stroke: GREEN, dash: "5,3"},
  {fpr: macroFpr, tpr: macroTpr, stroke: GREEN, dash: "5,3"}
];
root.appendChild(makePanel({
  left: 0, top: 0, width: 580, height: 420, m: [72, 47, 52, 60],
  xDomain: [0, 1], yDomain: [0, 1],
  xTicks: rocTicks, xTickLabels: rocTickLabels, yTicks: rocTicks, yTickLabels: rocTickLabels,
  xTitle: "False positive rate", yTitle: "True positive rate", xTitleDy: 37, yTitleDx: 47,
  marks: [
    Plot.line(zip(chanceLine, chanceLine), {x: "x", y: "y", stroke: "#222", strokeWidth: 2, strokeDasharray: "0.1,4.6", strokeLinecap: "round"}),
    ...rocSeries.slice().reverse().map(s => Plot.line(zip(s.fpr, s.tpr), {x: "x", y: "y", stroke: s.stroke, strokeWidth: 1.7, strokeDasharray: s.dash}))
  ]
}));

// Legend for A
const legend = document.createElement("div");
legend.className = "legend";
legend.innerHTML = legendLabels.map((t, i) => {
  const s = rocSeries[i];
  return `<div><svg width="22" height="8"><line x1="0" y1="4" x2="22" y2="4" stroke="${s.stroke}" stroke-width="1.8" ${s.dash ? 'stroke-dasharray="5,3"' : ''}/></svg>${t}</div>`;
}).join("");
root.appendChild(legend);

const dotOpts = {x: d => d[0], y: d => d[1], r: 1.35, fill: DOT, stroke: null};

// Panel B
root.appendChild(makePanel({
  left: 580, top: 0, width: 577, height: 420, m: [90, 26, 52, 60],
  xDomain: [-2.421, -0.198], yDomain: [-2.19, -0.461],
  xTicks: bXTicks, xTickLabels: bXTickLabels, yTicks: bYTicks, yTickLabels: bYTickLabels,
  xTitle: "Observed dysfunction score", yTitle: "Predicted dysfunction score", xTitleDy: 38, yTitleDx: 55,
  marks: [
    Plot.dot(withCore(bPoints, bCoreRows), dotOpts),
    Plot.line(zip(bFitObserved, bFitPredicted), {x: "x", y: "y", stroke: RED, strokeWidth: 1.8})
  ]
}));

// Panel C
root.appendChild(makePanel({
  left: 0, top: 420, width: 580, height: 419, m: [71, 47, 61, 49],
  xDomain: [0.569, 3.541], yDomain: [0.895, 2.913],
  xTicks: cXTicks, xTickLabels: cXTickLabels, yTicks: cYTicks, yTickLabels: cYTickLabels,
  xTitle: "Observed exclusion score", yTitle: "Predicted exclusion score", xTitleDy: 37, yTitleDx: 52,
  marks: [
    Plot.dot(withCore(cPoints, cCoreRows), dotOpts),
    Plot.line(zip(cFitObserved, cFitPredicted), {x: "x", y: "y", stroke: RED, strokeWidth: 1.8})
  ]
}));

// Panel D
root.appendChild(makePanel({
  left: 580, top: 420, width: 577, height: 419, m: [90, 26, 61, 49],
  xDomain: [-2.525, 1.962], yDomain: [-2.31, 1.80],
  xTicks: dXTicks, xTickLabels: dXTickLabels, yTicks: dYTicks, yTickLabels: dYTickLabels,
  xTitle: "Observed ICB response", yTitle: "Predicted ICB response", xTitleDy: 37, yTitleDx: 53,
  marks: [
    Plot.dot(withCore(dPoints, dCoreRows), dotOpts),
    Plot.line(zip(dFitObserved, dFitPredicted), {x: "x", y: "y", stroke: RED, strokeWidth: 1.8})
  ]
}));

// Panel letters
[["A", 12, 9], ["B", 612, 9], ["C", 12, 438], ["D", 612, 438]].forEach(([t, x, y]) => {
  const el = document.createElement("div");
  el.className = "letter"; el.textContent = t;
  el.style.left = x + "px"; el.style.top = y + "px";
  root.appendChild(el);
});
</script>
</body></html>
